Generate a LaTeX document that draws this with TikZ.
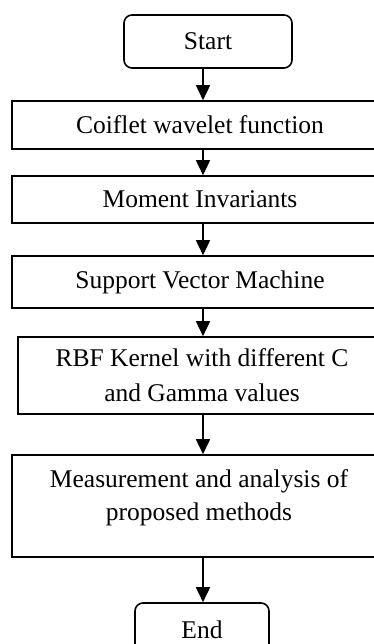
\documentclass[tikz,border=0pt]{standalone}
\usepackage{fontspec}
\setmainfont{Liberation Serif}
\usetikzlibrary{arrows.meta}
\begin{document}
\begin{tikzpicture}[x=1pt,y=1pt,
  box/.style={draw, line width=1.6pt, rectangle, minimum width=376pt, inner sep=0pt,
    font=\fontsize{25.5}{35}\selectfont, align=center},
  term/.style={draw, line width=1.6pt, rounded corners=8pt, inner sep=0pt,
    font=\fontsize{25.5}{33}\selectfont},
  txt/.style={inner sep=0pt, font=\fontsize{25.5}{33}\selectfont, align=center},
  flow/.style={line width=1.6pt, -{Triangle[length=15pt,width=14pt]}}]
\useasboundingbox (0,0) rectangle (374,-644);
\clip (0,0) rectangle (374,-644);
\coordinate (ax) at (203,0);
\node[term, minimum width=168pt, minimum height=53pt] (start) at (208,-41.5) {Start};
\node[box, minimum height=48pt] (c1) at (200,-125) {Coiflet wavelet function};
\node[box, minimum height=47pt] (c2) at (200,-199.5) {Moment Invariants};
\node[box, minimum height=52pt] (c3) at (200,-282) {Support Vector Machine};
\node[box, minimum width=368pt, minimum height=77pt] (c4) at (202,-375.5) {RBF Kernel with different C\\and Gamma values};
\node[box, minimum height=102pt] (c5) at (200,-506) {};
\node[txt, anchor=north] (c5t) at ([yshift=-15pt]c5.north -| 199,0) {Measurement and analysis of\\proposed methods};
\node[term, minimum width=134pt, minimum height=53pt] (end) at (202,-629.5) {End};
\draw[flow] (start.south -| ax) -- (c1.north -| ax);
\draw[flow] (c1.south -| ax) -- (c2.north -| ax);
\draw[flow] (c2.south -| ax) -- (c3.north -| ax);
\draw[flow] (c3.south -| ax) -- (c4.north -| ax);
\draw[flow] (c4.south -| ax) -- (c5.north -| ax);
\draw[flow] (c5.south -| ax) -- (end.north -| ax);
\end{tikzpicture}
\end{document}
